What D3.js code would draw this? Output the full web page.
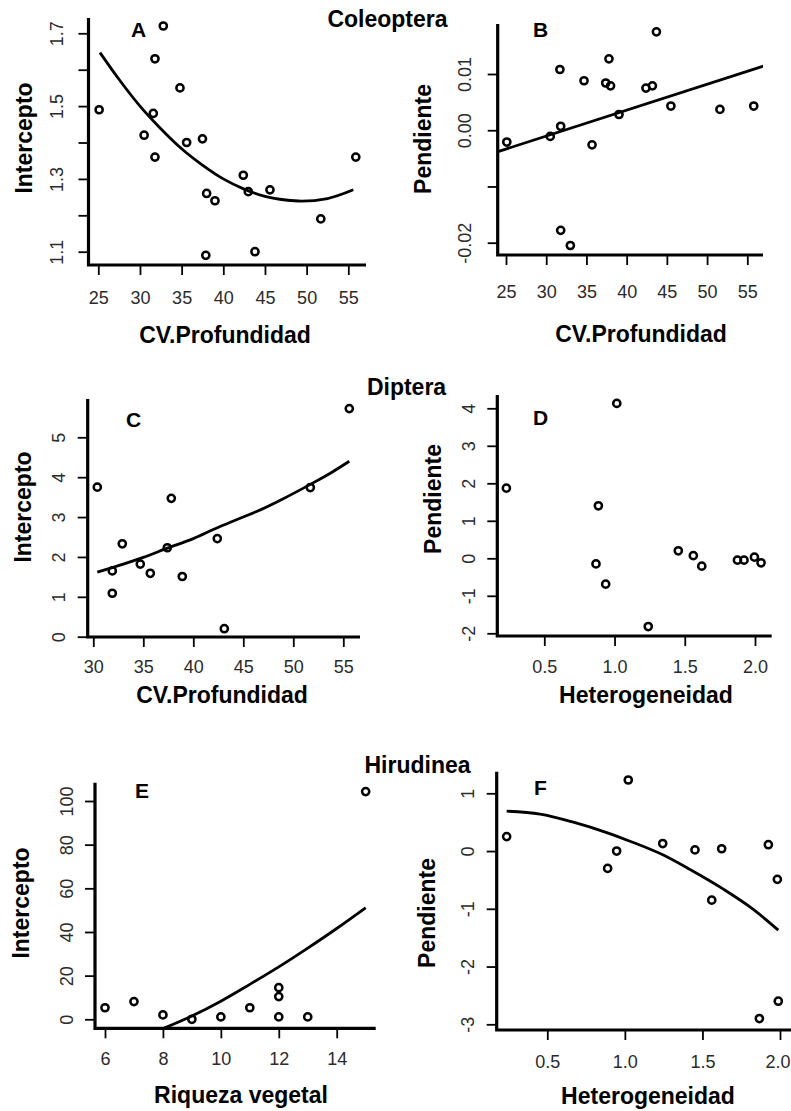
<!DOCTYPE html>
<html>
<head>
<meta charset="utf-8">
<script src="https://cdn.jsdelivr.net/npm/d3@7"></script>
<style>
  body { margin: 0; background: #fff; }
  svg { display: block; font-family: "Liberation Sans", Arial, sans-serif; }
</style>
</head>
<body>
<div id="chart"></div>
<script>
// six panels: intercept / slope against habitat variables (Coleoptera, Diptera, Hirudinea)

// A - Coleoptera intercept
const coleoIntX = [25.1, 32.8, 31.8, 34.8, 31.6, 30.5, 31.8, 35.6, 37.5, 38.0, 39.0, 37.9, 42.4, 43.0, 45.6, 43.8, 51.7, 55.9];
const coleoIntY = [1.49, 1.72, 1.63, 1.55, 1.48, 1.42, 1.36, 1.40, 1.41, 1.26, 1.24, 1.09, 1.31, 1.265, 1.27, 1.10, 1.19, 1.36];
const coleoIntFitX = [25.2, 27.5, 30, 32.5, 35, 37.5, 40, 42.5, 45, 47.5, 49.4, 52.5, 55.6];
const coleoIntFitY = [1.647, 1.573, 1.50, 1.438, 1.383, 1.338, 1.30, 1.272, 1.252, 1.242, 1.239, 1.246, 1.27];

// B - Coleoptera slope
const coleoSlpX = [25.1, 30.5, 31.8, 31.7, 34.7, 35.7, 37.8, 37.4, 38.0, 39.05, 42.4, 43.2, 43.7, 45.5, 51.6, 55.8, 31.8, 33.0];
const coleoSlpY = [-0.0021, -0.0011, 0.0007, 0.0108, 0.0088, -0.0026, 0.0127, 0.0084, 0.0079, 0.0028, 0.0075, 0.0079, 0.0175, 0.0043, 0.0037, 0.0043, -0.0178, -0.0205];
const coleoSlpFitX = [24.0, 57.0];
const coleoSlpFitY = [-0.0038, 0.0114];

// C - Diptera intercept
const dipIntX = [30.4, 31.9, 31.9, 32.9, 34.7, 35.7, 37.4, 37.8, 38.9, 42.4, 43.1, 51.7, 55.6];
const dipIntY = [3.75, 1.65, 1.09, 2.33, 1.82, 1.59, 2.23, 3.47, 1.51, 2.46, 0.20, 3.74, 5.72];
const dipIntFitX = [30.4, 33, 35, 37.4, 40, 42.3, 44.5, 46.7, 49, 51.7, 53.7, 55.6];
const dipIntFitY = [1.62, 1.82, 1.99, 2.22, 2.46, 2.72, 2.95, 3.18, 3.46, 3.82, 4.1, 4.4];

// D - Diptera slope
const dipSlpX = [0.23, 0.885, 0.868, 0.937, 1.016, 1.24, 1.454, 1.561, 1.621, 1.875, 1.922, 1.996, 2.043];
const dipSlpY = [1.87, 1.40, -0.15, -0.69, 4.13, -1.82, 0.20, 0.07, -0.21, -0.05, -0.05, 0.03, -0.12];

// E - Hirudinea intercept
const hirIntX = [6, 7, 8, 9, 10, 11, 12, 12, 12, 13, 15];
const hirIntY = [5.3, 8.1, 2.0, 0, 1.1, 5.3, 14.5, 10.4, 1.1, 1.1, 104.3];
const hirIntFitX = [8.05, 9, 10, 11, 12, 13, 14, 15];
const hirIntFitY = [-4.0, 1.5, 8.3, 16.0, 24.0, 32.6, 41.6, 51.1];

// F - Hirudinea slope
const hirSlpX = [0.238, 0.889, 0.947, 1.022, 1.244, 1.452, 1.560, 1.624, 1.867, 1.925, 1.983, 1.989];
const hirSlpY = [0.25, -0.30, 0.0, 1.23, 0.13, 0.02, -0.85, 0.04, -2.90, 0.11, -0.49, -2.60];
const hirSlpFitX = [0.238, 0.453, 0.668, 0.883, 1.033, 1.248, 1.42, 1.635, 1.828, 1.989];
const hirSlpFitY = [0.69, 0.64, 0.50, 0.32, 0.17, -0.07, -0.32, -0.66, -1.01, -1.37];

// ticks
const cvTicks = [25, 30, 35, 40, 45, 50, 55];
const coleoIntTicks = [1.1, 1.2, 1.3, 1.4, 1.5, 1.6, 1.7];
const coleoIntLabels = [1.1, 1.3, 1.5, 1.7];
const coleoSlpTicks = [-0.02, -0.01, 0, 0.01];
const coleoSlpLabels = [-0.02, 0, 0.01];
const dipCvTicks = [30, 35, 40, 45, 50, 55];
const dipIntTicks = [0, 1, 2, 3, 4, 5];
const hetTicks = [0.5, 1.0, 1.5, 2.0];
const dipSlpTicks = [-2, -1, 0, 1, 2, 3, 4];
const riqTicks = [6, 8, 10, 12, 14];
const hirIntTicks = [0, 20, 40, 60, 80, 100];
const hirSlpTicks = [-3, -2, -1, 0, 1];

const groupTitles = ["Coleoptera", "Diptera", "Hirudinea"];

const width = 791, height = 1111;

const svg = d3.select("#chart").append("svg")
    .attr("width", width)
    .attr("height", height);

const oneDec = d => d.toFixed(1);
const plain = d => String(d);

const panels = [
  { letter: "A", xs: coleoIntX, ys: coleoIntY, fitX: coleoIntFitX, fitY: coleoIntFitY,
    xDom: [25, 55], xRng: [98.3, 348.3], yDom: [1.1, 1.7], yRng: [251.7, 33.3],
    frame: {left: 88.5, right: 366, top: 18, bottom: 265},
    xTicks: cvTicks, xLabels: cvTicks, xFmt: plain,
    yTicks: coleoIntTicks, yLabels: coleoIntLabels, yFmt: oneDec,
    xLabDy: 39, yLabDx: -26,
    xTitle: "CV.Profundidad", xTitlePos: [225, 343],
    yTitle: "Intercepto", yTitlePos: [32, 138],
    letterPos: [131, 37] },
  { letter: "B", xs: coleoSlpX, ys: coleoSlpY, fitX: coleoSlpFitX, fitY: coleoSlpFitY,
    xDom: [25, 55], xRng: [506, 747.3], yDom: [-0.02, 0.01], yRng: [242.7, 74],
    frame: {left: 497.7, right: 763, top: 24, bottom: 255},
    xTicks: cvTicks, xLabels: cvTicks, xFmt: plain,
    yTicks: coleoSlpTicks, yLabels: coleoSlpLabels, yFmt: d => d.toFixed(2),
    xLabDy: 43, yLabDx: -27,
    xTitle: "CV.Profundidad", xTitlePos: [641, 342],
    yTitle: "Pendiente", yTitlePos: [431, 139],
    letterPos: [533, 37] },
  { letter: "C", xs: dipIntX, ys: dipIntY, fitX: dipIntFitX, fitY: dipIntFitY,
    xDom: [30, 55], xRng: [93.3, 343.3], yDom: [0, 5], yRng: [636.7, 437.3],
    frame: {left: 87.7, right: 360, top: 399, bottom: 637},
    xTicks: dipCvTicks, xLabels: dipCvTicks, xFmt: plain,
    yTicks: dipIntTicks, yLabels: dipIntTicks, yFmt: plain,
    xLabDy: 36, yLabDx: -22.5,
    xTitle: "CV.Profundidad", xTitlePos: [222, 703],
    yTitle: "Intercepto", yTitlePos: [31, 507],
    letterPos: [126, 427] },
  { letter: "D", xs: dipSlpX, ys: dipSlpY, fitX: null, fitY: null,
    xDom: [0.5, 2.0], xRng: [544.3, 755], yDom: [-2, 4], yRng: [633.3, 408.3],
    frame: {left: 497.3, right: 771.7, top: 395, bottom: 636},
    xTicks: hetTicks, xLabels: hetTicks, xFmt: oneDec,
    yTicks: dipSlpTicks, yLabels: dipSlpTicks, yFmt: plain,
    xLabDy: 37, yLabDx: -22.5,
    xTitle: "Heterogeneidad", xTitlePos: [646, 703],
    yTitle: "Pendiente", yTitlePos: [441, 499],
    letterPos: [533, 425] },
  { letter: "E", xs: hirIntX, ys: hirIntY, fitX: hirIntFitX, fitY: hirIntFitY,
    xDom: [6, 14], xRng: [105, 336.7], yDom: [0, 100], yRng: [1019.3, 801],
    frame: {left: 95, right: 375.7, top: 782.7, bottom: 1028.3},
    xTicks: riqTicks, xLabels: riqTicks, xFmt: plain,
    yTicks: hirIntTicks, yLabels: hirIntTicks, yFmt: plain,
    xLabDy: 37, yLabDx: -22,
    xTitle: "Riqueza vegetal", xTitlePos: [241, 1103],
    yTitle: "Intercepto", yTitlePos: [29, 903],
    letterPos: [135, 798] },
  { letter: "F", xs: hirSlpX, ys: hirSlpY, fitX: hirSlpFitX, fitY: hirSlpFitY,
    xDom: [0.5, 2.0], xRng: [547.3, 780], yDom: [-3, 1], yRng: [1024.3, 793.3],
    frame: {left: 496.7, right: 791, top: 771.7, bottom: 1030},
    xTicks: hetTicks, xLabels: hetTicks, xFmt: oneDec,
    yTicks: hirSlpTicks, yLabels: hirSlpTicks, yFmt: plain,
    xLabDy: 38, yLabDx: -23,
    xTitle: "Heterogeneidad", xTitlePos: [648, 1104],
    yTitle: "Pendiente", yTitlePos: [435, 913],
    letterPos: [534, 795] }
];

const titlePos = [[387.5, 27], [406.5, 395], [417.5, 773]];

svg.selectAll("text.group")
    .data(groupTitles)
    .join("text")
    .attr("class", "group")
    .attr("x", (d, i) => titlePos[i][0])
    .attr("y", (d, i) => titlePos[i][1])
    .attr("text-anchor", "middle")
    .attr("font-size", 23)
    .attr("font-weight", "bold")
    .text(d => d);

panels.forEach(function(p, idx) {
    const g = svg.append("g");
    const f = p.frame;

    const xScale = d3.scaleLinear().domain(p.xDom).range(p.xRng);
    const yScale = d3.scaleLinear().domain(p.yDom).range(p.yRng);

    g.append("clipPath").attr("id", "clip" + idx)
      .append("rect")
        .attr("x", f.left).attr("y", f.top)
        .attr("width", f.right - f.left).attr("height", f.bottom - f.top);

    // x axis
    const xAxis = g.append("g")
        .attr("transform", `translate(0, ${f.bottom})`)
        .call(d3.axisBottom(xScale)
            .tickValues(p.xTicks)
            .tickSize(10)
            .tickFormat(d => p.xLabels.includes(d) ? p.xFmt(d) : ""));
    xAxis.select(".domain").remove();
    xAxis.selectAll(".tick line").attr("stroke", "#000").attr("stroke-width", 1.8);
    xAxis.selectAll(".tick text")
        .attr("y", p.xLabDy)
        .attr("dy", 0)
        .attr("fill", "#2b2b2b")
        .attr("font-size", 18)
        .attr("font-family", "Liberation Sans, Arial, sans-serif");

    // keep a label that would run past the page edge inside it
    xAxis.selectAll(".tick").each(function(d) {
        const t = d3.select(this).select("text");
        const right = xScale(d) + this.querySelector("text").getComputedTextLength() / 2;
        if (right > width - 1) t.attr("x", width - 1 - right);
    });

    // y axis, labels turned along the axis like R does
    const yAxis = g.append("g")
        .attr("transform", `translate(${f.left}, 0)`)
        .call(d3.axisLeft(yScale)
            .tickValues(p.yTicks)
            .tickSize(10)
            .tickFormat(d => p.yLabels.includes(d) ? p.yFmt(d) : ""));
    yAxis.select(".domain").remove();
    yAxis.selectAll(".tick line").attr("stroke", "#000").attr("stroke-width", 1.8);
    yAxis.selectAll(".tick text")
        .attr("x", null)
        .attr("dy", 0)
        .attr("text-anchor", "middle")
        .attr("transform", `translate(${p.yLabDx}, 0) rotate(-90)`)
        .attr("fill", "#2b2b2b")
        .attr("font-size", 18)
        .attr("font-family", "Liberation Sans, Arial, sans-serif");

    // L shaped frame
    g.append("path")
        .attr("d", `M${f.left},${f.top}V${f.bottom}H${f.right}`)
        .attr("fill", "none")
        .attr("stroke", "#000")
        .attr("stroke-width", 3.2);

    // fitted curve
    if (p.fitX) {
        const pts = p.fitX.map((x, i) => [x, p.fitY[i]]);
        g.append("path")
            .datum(pts)
            .attr("clip-path", `url(#clip${idx})`)
            .attr("fill", "none")
            .attr("stroke", "#000")
            .attr("stroke-width", 2.8)
            .attr("d", d3.line()
                .x(d => xScale(d[0]))
                .y(d => yScale(d[1]))
                .curve(d3.curveMonotoneX));
    }

    // points
    const pts = p.xs.map((x, i) => ({x: x, y: p.ys[i]}));
    g.append("g")
        .selectAll("circle")
        .data(pts)
        .join("circle")
        .attr("cx", d => xScale(d.x))
        .attr("cy", d => yScale(d.y))
        .attr("r", 3.6)
        .attr("fill", "none")
        .attr("stroke", "#000")
        .attr("stroke-width", 2.5);

    // panel letter
    g.append("text")
        .attr("x", p.letterPos[0])
        .attr("y", p.letterPos[1])
        .attr("font-size", 21)
        .attr("font-weight", "bold")
        .text(p.letter);

    // axis titles
    g.append("text")
        .attr("x", p.xTitlePos[0])
        .attr("y", p.xTitlePos[1])
        .attr("text-anchor", "middle")
        .attr("font-size", 23)
        .attr("font-weight", "bold")
        .text(p.xTitle);

    g.append("text")
        .attr("transform", `translate(${p.yTitlePos[0]}, ${p.yTitlePos[1]}) rotate(-90)`)
        .attr("text-anchor", "middle")
        .attr("font-size", 23)
        .attr("font-weight", "bold")
        .text(p.yTitle);
});
</script>
</body>
</html>
